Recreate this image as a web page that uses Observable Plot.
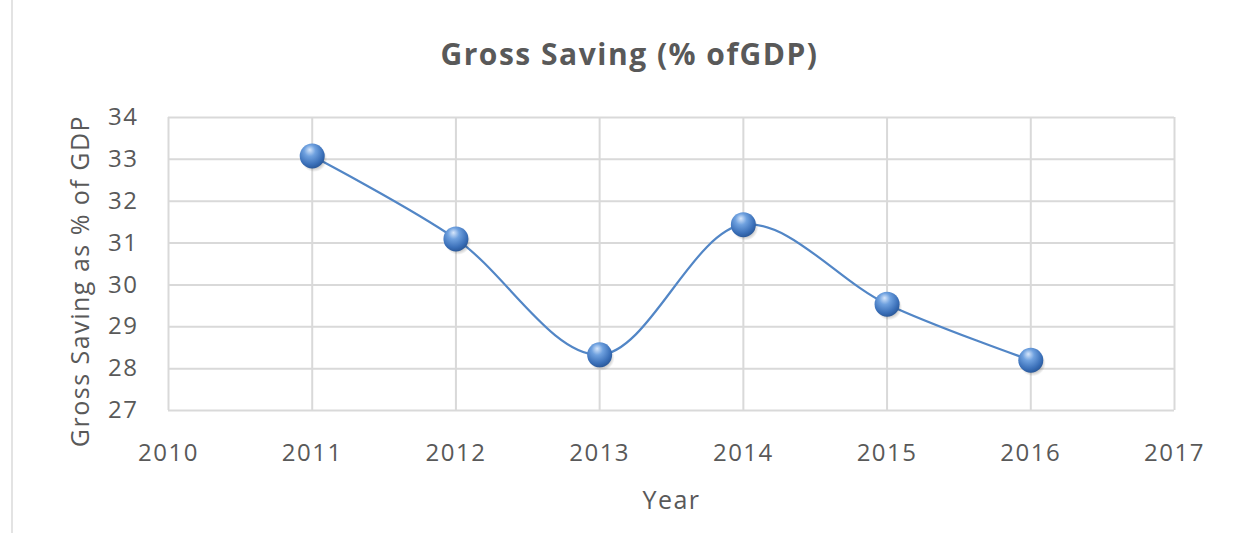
<!DOCTYPE html>
<html>
<head>
<meta charset="utf-8">
<script src="https://cdn.jsdelivr.net/npm/d3@7"></script>
<script src="https://cdn.jsdelivr.net/npm/@observablehq/plot@0.6"></script>
<style>
  html, body { margin: 0; padding: 0; background: #fff; }
  #wrap { position: relative; width: 1242px; height: 533px; overflow: hidden; }
  #edge { position: absolute; left: 11px; top: 0; width: 2px; height: 533px; background: #e3e3e3; }
  #chart text { letter-spacing: 1.5px; }
</style>
</head>
<body>
<div id="wrap"><div id="edge"></div><div id="chart"></div></div>
<script>
const years = [2011, 2012, 2013, 2014, 2015, 2016];
const saving = [33.08, 31.1, 28.33, 31.44, 29.54, 28.2];
const xTicks = [2010, 2011, 2012, 2013, 2014, 2015, 2016, 2017];
const yTicks = [27, 28, 29, 30, 31, 32, 33, 34];
const title = "Gross Saving (% ofGDP)";
const xLabel = "Year";
const yLabel = "Gross Saving as % of GDP";

const data = years.map((y, i) => ({year: y, value: saving[i]}));
const font = "'Open Sans', 'Noto Sans', sans-serif";
const grid = "#d9d9d9";
const textCol = "#595959";

const chart = Plot.plot({
  width: 1242,
  height: 533,
  marginLeft: 168,
  marginRight: 68,
  marginTop: 117,
  marginBottom: 123,
  style: {fontFamily: font, fontSize: "24px", color: textCol, background: "#fff"},
  x: {domain: [2010, 2017], ticks: xTicks, tickFormat: "d", label: null},
  y: {domain: [27, 34], ticks: yTicks, label: null},
  marks: [
    Plot.gridX(xTicks, {stroke: grid, strokeOpacity: 1, strokeWidth: 2}),
    Plot.gridY(yTicks, {stroke: grid, strokeOpacity: 1, strokeWidth: 2}),
    Plot.axisX(xTicks, {tickSize: 0, tickPadding: 33, fontSize: 24, fill: textCol, tickFormat: "d"}),
    Plot.axisY(yTicks, {tickSize: 0, tickPadding: 30, fontSize: 24, fill: textCol}),
    Plot.line(data, {x: "year", y: "value", curve: "catmull-rom", stroke: "#5286c6", strokeWidth: 2.2}),
    Plot.dot(data, {x: "year", y: "value", r: 13, fill: "url(#sphereShadow)", dx: 2, dy: 3}),
    Plot.dot(data, {x: "year", y: "value", r: 12.5, fill: "url(#sphere)", stroke: "none"}),
    Plot.text([title], {frameAnchor: "top", lineAnchor: "middle", dx: -42, dy: -62, fontSize: 30, fontWeight: "bold", fill: textCol}),
    Plot.text([xLabel], {frameAnchor: "bottom", lineAnchor: "middle", dy: 90, fontSize: 25, fill: textCol}),
    Plot.text([yLabel], {frameAnchor: "left", textAnchor: "middle", lineAnchor: "middle", dx: -88, dy: 17, rotate: -90, fontSize: 25, fill: textCol})
  ]
});

const svg = d3.select(chart);
const defs = svg.insert("defs", ":first-child");
const g = defs.append("radialGradient").attr("id", "sphere")
  .attr("cx", "0.42").attr("cy", "0.35").attr("r", "0.65").attr("fx", "0.4").attr("fy", "0.25");
g.append("stop").attr("offset", "0").attr("stop-color", "#d6e6fb");
g.append("stop").attr("offset", "0.35").attr("stop-color", "#6fa1df");
g.append("stop").attr("offset", "0.8").attr("stop-color", "#3a6fb8");
g.append("stop").attr("offset", "1").attr("stop-color", "#2b5a9c");
const s = defs.append("radialGradient").attr("id", "sphereShadow");
s.append("stop").attr("offset", "0.5").attr("stop-color", "#000").attr("stop-opacity", 0.35);
s.append("stop").attr("offset", "1").attr("stop-color", "#000").attr("stop-opacity", 0);

document.getElementById("chart").appendChild(chart);
</script>
</body>
</html>
